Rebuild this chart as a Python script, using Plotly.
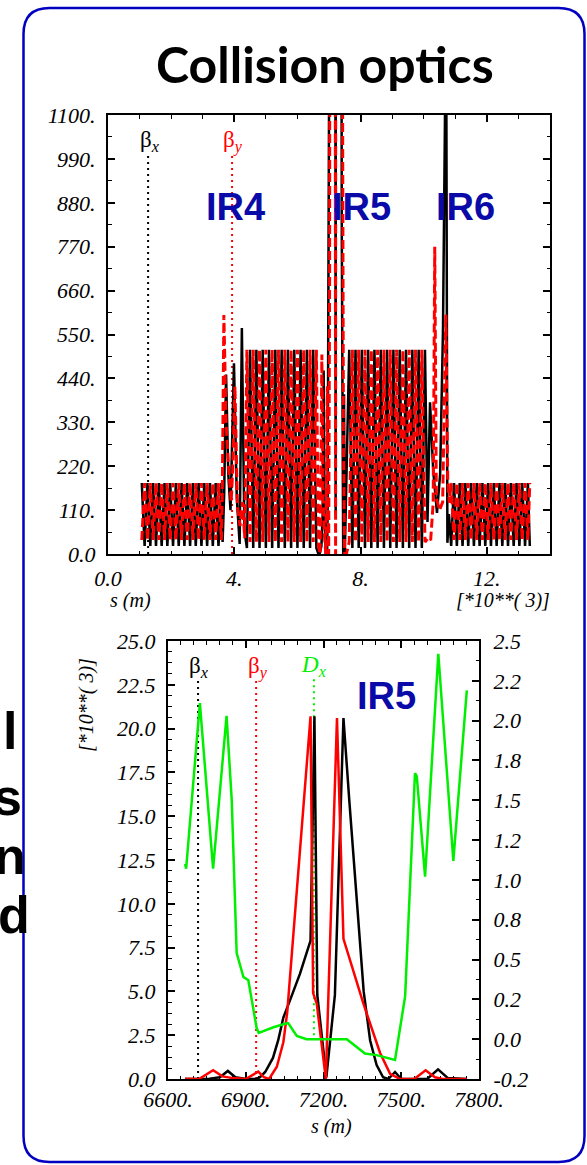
import plotly.graph_objects as go

W, H = 587, 1165

# ---------------- full ring: s in km, beta in m ----------------
# left low-beta straight section
S_LOW_L = [1.07, 1.16, 1.25, 1.34, 1.43, 1.52, 1.61, 1.70, 1.79, 1.88,
           1.97, 2.06, 2.15, 2.24, 2.33, 2.42, 2.51, 2.60, 2.69, 2.78,
           2.87, 2.96, 3.05, 3.14, 3.23, 3.32, 3.41, 3.50, 3.59]
BX_LOW_L = [178, 20, 178, 20, 178, 20, 178, 20, 178, 20,
            178, 20, 178, 20, 178, 20, 178, 20, 178, 20,
            178, 20, 178, 20, 178, 20, 178, 20, 178]
BY_LOW_L = [35, 178, 35, 178, 35, 178, 35, 178, 35, 178,
            35, 178, 35, 178, 35, 178, 35, 178, 35, 178,
            35, 178, 35, 178, 35, 178, 35, 178, 35]

# IR4 insertion
S_IR4_X = [3.63, 3.68, 3.74, 3.81, 3.88, 3.99, 4.08, 4.17, 4.24, 4.32]
BX_IR4 = [30, 150, 450, 200, 110, 478, 140, 25, 566, 60]
S_IR4_Y = [3.62, 3.67, 3.74, 3.82, 3.90, 3.95, 4.02, 4.10, 4.18, 4.26, 4.33]
BY_IR4 = [150, 599, 330, 215, 130, 210, 420, 120, 70, 130, 40]

# arc between IR4 and IR5
S_ARC1 = [4.40, 4.50, 4.60, 4.70, 4.80, 4.90, 5.00, 5.10, 5.20, 5.30,
          5.40, 5.50, 5.60, 5.70, 5.80, 5.90, 6.00, 6.10, 6.20, 6.30,
          6.40, 6.50, 6.60]
BX_ARC1 = [15, 512, 15, 512, 15, 512, 15, 512, 15, 512,
           15, 512, 15, 512, 15, 512, 15, 512, 15, 512,
           15, 512, 15]
BY_ARC1 = [512, 30, 512, 30, 512, 30, 512, 30, 512, 30,
           512, 30, 512, 30, 512, 30, 512, 30, 512, 30,
           512, 30, 512]

# arc between IR5 and IR6
S_ARC2 = [7.64, 7.74, 7.84, 7.94, 8.04, 8.14, 8.24, 8.34, 8.44, 8.54,
          8.64, 8.74, 8.84, 8.94, 9.04, 9.14, 9.24, 9.34, 9.44, 9.54,
          9.64, 9.74, 9.84, 9.94, 10.04]
BX_ARC2 = [512, 15, 512, 15, 512, 15, 512, 15, 512, 15,
           512, 15, 512, 15, 512, 15, 512, 15, 512, 15,
           512, 15, 512, 15, 512]
BY_ARC2 = [30, 512, 30, 512, 30, 512, 30, 512, 30, 512,
           30, 512, 30, 512, 30, 512, 30, 512, 30, 512,
           30, 512, 30, 512, 30]

# IR6 insertion
S_IR6_X = [10.12, 10.20, 10.30, 10.42, 10.52, 10.61, 10.69, 10.71, 10.75, 10.80]
BX_IR6 = [80, 380, 210, 103, 200, 560, 1400, 1400, 28, 100]
S_IR6_Y = [10.14, 10.22, 10.30, 10.35, 10.40, 10.50, 10.60, 10.70, 10.76, 10.81]
BY_IR6 = [40, 35, 128, 770, 140, 110, 130, 600, 190, 128]

# right low-beta straight section
S_LOW_R = [10.87, 10.96, 11.05, 11.14, 11.23, 11.32, 11.41, 11.50, 11.59, 11.68,
           11.77, 11.86, 11.95, 12.04, 12.13, 12.22, 12.31, 12.40, 12.49, 12.58,
           12.67, 12.76, 12.85, 12.94, 13.03, 13.12, 13.21, 13.30, 13.36]
BX_LOW_R = [20, 178, 20, 178, 20, 178, 20, 178, 20, 178,
            20, 178, 20, 178, 20, 178, 20, 178, 20, 178,
            20, 178, 20, 178, 20, 178, 20, 178, 20]
BY_LOW_R = [178, 35, 178, 35, 178, 35, 178, 35, 178, 35,
            178, 35, 178, 35, 178, 35, 178, 35, 178, 35,
            178, 35, 178, 35, 178, 35, 178, 35, 178]

# label marker positions on the ring plot (km) and their extent (m)
MARK_S_TOP = [1.27, 3.93]
MARK_Y_TOP = [0, 1000]

# ---------------- IR5 close-up: s in m, beta in 10^3 m, Dx in m ----------------
IR5_S_BX = [6666, 6700, 6760, 6800, 6831, 6860, 6900, 6940, 6955, 6975,
            7005, 7025, 7045, 7071, 7109, 7150, 7165, 7176, 7211, 7244,
            7277, 7300, 7330, 7355, 7380, 7405, 7430, 7450, 7476, 7500,
            7600, 7642, 7680, 7720, 7753]
IR5_BX = [0.0, 0.0, 0.02, 0.1, 0.46, 0.1, 0.0, 0.0, 0.1, 0.4,
          1.2, 2.2, 3.5, 4.5, 6.0, 7.9, 20.7, 4.8, 0.1, 4.8,
          20.6, 15.8, 9.8, 5.0, 2.2, 0.8, 0.1, 0.0, 0.4, 0.0,
          0.0, 0.55, 0.05, 0.0, 0.0]

IR5_S_BY = [6666, 6720, 6774, 6810, 6851, 6900, 6948, 6970, 6990, 7020,
            7045, 7060, 7150, 7160, 7174, 7209, 7252, 7277, 7354, 7380,
            7418, 7457, 7495, 7550, 7594, 7630, 7660, 7753]
IR5_BY = [0.02, 0.0, 0.5, 0.15, 0.05, 0.0, 0.42, 0.1, 0.0, 0.7,
          2.1, 3.8, 20.7, 4.9, 4.3, 0.0, 20.6, 8.0, 4.3, 3.2,
          1.5, 0.3, 0.0, 0.0, 0.5, 0.1, 0.0, 0.0]

IR5_S_DX = [6666, 6670, 6723, 6774, 6826, 6846, 6865, 6878, 6891, 6910,
            6923, 6942, 6950, 6981, 7007, 7058, 7064, 7097, 7135, 7290,
            7360, 7405, 7476, 7515, 7534, 7553, 7560, 7592, 7643, 7701,
            7753]
IR5_DX = [1.10, 1.07, 2.11, 1.07, 2.03, 1.50, 0.54, 0.46, 0.39, 0.37,
          0.25, 0.07, 0.04, 0.06, 0.075, 0.10, 0.10, 0.02, 0.0, 0.0,
          -0.09, -0.10, -0.13, 0.27, 1.0, 1.67, 1.65, 1.02, 2.42, 1.12,
          2.19]

# label marker positions on the close-up (m) and their extent (10^3 m)
MARK_S_BOT = [6716, 6940, 7163]
MARK_TOP_BOT = [22.8, 22.8, 23.0]
MARK_LOW_BOT = [0.0, 0.0, 2.5]

IR5_WINDOW = (6666, 7550)   # part of the close-up spliced into the ring plot (m)

# ---------------- assemble ring-plot series ----------------
def ir5_part(s_vals, b_vals):
    lo, hi = IR5_WINDOW
    pairs = [(s / 1000.0, b * 1000.0) for s, b in zip(s_vals, b_vals) if lo <= s <= hi]
    return [p[0] for p in pairs], [p[1] for p in pairs]

ir5x_s, ir5x_b = ir5_part(IR5_S_BX, IR5_BX)
ir5y_s, ir5y_b = ir5_part(IR5_S_BY, IR5_BY)

ring_bx_s = S_LOW_L + S_IR4_X + S_ARC1 + ir5x_s + S_ARC2 + S_IR6_X + S_LOW_R
ring_bx = BX_LOW_L + BX_IR4 + BX_ARC1 + ir5x_b + BX_ARC2 + BX_IR6 + BX_LOW_R
ring_by_s = S_LOW_L + S_IR4_Y + S_ARC1 + ir5y_s + S_ARC2 + S_IR6_Y + S_LOW_R
ring_by = BY_LOW_L + BY_IR4 + BY_ARC1 + ir5y_b + BY_ARC2 + BY_IR6 + BY_LOW_R


def px(x):
    return x / W


def py(y):
    return 1 - y / H


BLACK, RED, GREEN = "#000000", "#ff0000", "#00ee00"
NAVY = "#0a0aa8"
FRAME = "#0000c0"
SERIF = "Liberation Serif"
TICKFONT = dict(family=SERIF, size=22, color="black", style="italic")
NBSP = "\u00a0"
SCALE_NOTE = f"[*10**({NBSP}3)]"

fig = go.Figure()

# dotted label markers (ring plot)
for s, col in zip(MARK_S_TOP, [BLACK, RED]):
    fig.add_trace(go.Scatter(x=[s, s], y=MARK_Y_TOP, mode="lines", xaxis="x", yaxis="y",
                             line=dict(color=col, width=2, dash="2px,4px"), hoverinfo="skip"))

fig.add_trace(go.Scatter(x=ring_bx_s, y=ring_bx, mode="lines", xaxis="x", yaxis="y",
                         line=dict(color=BLACK, width=2.5), name="βx"))
fig.add_trace(go.Scatter(x=ring_by_s, y=ring_by, mode="lines", xaxis="x", yaxis="y",
                         line=dict(color=RED, width=3, dash="9px,4px"), name="βy"))

# dotted label markers (close-up)
for s, top, low, col in zip(MARK_S_BOT, MARK_TOP_BOT, MARK_LOW_BOT, [BLACK, RED, GREEN]):
    fig.add_trace(go.Scatter(x=[s, s], y=[low, top], mode="lines", xaxis="x2", yaxis="y2",
                             line=dict(color=col, width=2, dash="2px,4px"), hoverinfo="skip"))

fig.add_trace(go.Scatter(x=IR5_S_BX, y=IR5_BX, mode="lines", xaxis="x2", yaxis="y2",
                         line=dict(color=BLACK, width=2.5), name="βx"))
fig.add_trace(go.Scatter(x=IR5_S_BY, y=IR5_BY, mode="lines", xaxis="x2", yaxis="y2",
                         line=dict(color=RED, width=2.5), name="βy"))
fig.add_trace(go.Scatter(x=IR5_S_DX, y=IR5_DX, mode="lines", xaxis="x2", yaxis="y3",
                         line=dict(color=GREEN, width=2.5), name="Dx"))


def axis(**kw):
    base = dict(showline=True, linecolor="black", linewidth=2, ticks="inside",
                ticklen=7, tickwidth=1.5, tickcolor="black", showgrid=False,
                zeroline=False, tickfont=TICKFONT, layer="below traces",
                fixedrange=True, automargin=False)
    base.update(kw)
    return base


def minor(vals):
    return dict(ticks="inside", ticklen=3.5, tickwidth=1.2, tickcolor="black",
                tickvals=vals, showgrid=False)


top_y_ticks = [110 * k for k in range(11)]
top_y_text = ["0.0"] + [f"{v}." for v in top_y_ticks[1:]]
bot_x_ticks = [6600, 6900, 7200, 7500, 7800]
bot_y_ticks = [2.5 * k for k in range(11)]
r_ticks = [-0.25 + 0.25 * k for k in range(12)]
r_text = ["-0.2", "0.0", "0.2", "0.5", "0.8", "1.0", "1.2", "1.5", "1.8", "2.0", "2.2", "2.5"]

fig.update_layout(
    width=W, height=H, margin=dict(l=0, r=0, t=0, b=0, pad=0, autoexpand=False),
    autosize=False,
    paper_bgcolor="white", plot_bgcolor="white", showlegend=False,
    xaxis=axis(domain=[px(108), px(550)], anchor="y", range=[0, 14],
               tickvals=[0, 4, 8, 12], ticktext=["0.0", "4.", "8.", "12."],
               minor=minor(list(range(0, 15))), mirror="ticks", ticklabelstandoff=4),
    yaxis=axis(domain=[py(554), py(115)], anchor="x", range=[0, 1100],
               tickvals=top_y_ticks, ticktext=top_y_text,
               minor=minor([55 + 110 * k for k in range(10)]), mirror="ticks",
               ticklabelstandoff=6),
    xaxis2=axis(domain=[px(168), px(479)], anchor="y2", range=[6600, 7800],
                tickvals=bot_x_ticks, ticktext=[f"{v}." for v in bot_x_ticks],
                minor=minor(list(range(6600, 7801, 50))), mirror="ticks",
                ticklabelstandoff=0),
    yaxis2=axis(domain=[py(1079), py(641)], anchor="x2", range=[0, 25],
                tickvals=bot_y_ticks, ticktext=[f"{v:.1f}" for v in bot_y_ticks],
                minor=minor([0.625 * k for k in range(41)]), ticklabelstandoff=6),
    yaxis3=axis(overlaying="y2", side="right", anchor="x2", range=[-0.25, 2.5],
                tickvals=r_ticks, ticktext=r_text,
                minor=minor([-0.125 + 0.25 * k for k in range(12)]), ticklabelstandoff=8),
)

ann = []


def text(x, y, s, size, color="black", family=SERIF, style="normal", weight="normal",
         xanchor="center", angle=0):
    ann.append(dict(x=px(x), y=py(y), xref="paper", yref="paper", text=s, showarrow=False,
                    xanchor=xanchor, yanchor="middle", textangle=angle,
                    font=dict(family=family, size=size, color=color, style=style,
                              weight=weight)))


# title
text(325, 64, "Collision optics", 50, family="Lato", weight="bold")

# ring plot labels
text(150, 141, "β<sub><i>x</i></sub>", 23)
text(233, 141, "β<sub><i>y</i></sub>", 23, color=RED)
for x, lab in [(235.5, "IR4"), (361, "IR5"), (465.5, "IR6")]:
    text(x, 207, lab, 38, color=NAVY, family="Liberation Sans", weight="bold")
text(108, 600, "s (m)", 20, style="italic", xanchor="left")
text(552, 600, SCALE_NOTE, 20, style="italic", xanchor="right")

# close-up labels
text(199, 667, "β<sub><i>x</i></sub>", 23)
text(258, 667, "β<sub><i>y</i></sub>", 23, color=RED)
text(314, 666, "<i>D</i><sub><i>x</i></sub>", 23, color=GREEN)
text(386, 696, "IR5", 38, color=NAVY, family="Liberation Sans", weight="bold")
text(331, 1126, "s (m)", 20, style="italic")
text(86, 705, SCALE_NOTE, 20, style="italic", angle=-90)

# word endings of the neighbouring text column
for y, ch, xr in [(731, "l", 19), (797, "s", 24), (856, "n", 28), (915, "d", 32)]:
    text(xr, y, ch, 52, family="Liberation Sans", weight="bold", xanchor="right")

fig.update_layout(annotations=ann)

# rounded slide frame
x0, x1, y0, y1, r = 23.5, 584.5, 8, 1162, 26
path = (f"M {px(x0 + r)},{py(y0)} L {px(x1 - r)},{py(y0)} "
        f"Q {px(x1)},{py(y0)} {px(x1)},{py(y0 + r)} L {px(x1)},{py(y1 - r)} "
        f"Q {px(x1)},{py(y1)} {px(x1 - r)},{py(y1)} L {px(x0 + r)},{py(y1)} "
        f"Q {px(x0)},{py(y1)} {px(x0)},{py(y1 - r)} L {px(x0)},{py(y0 + r)} "
        f"Q {px(x0)},{py(y0)} {px(x0 + r)},{py(y0)} Z")
fig.add_shape(type="path", path=path, xref="paper", yref="paper",
              line=dict(color=FRAME, width=2.5), layer="below")

fig.write_html("out.html")
